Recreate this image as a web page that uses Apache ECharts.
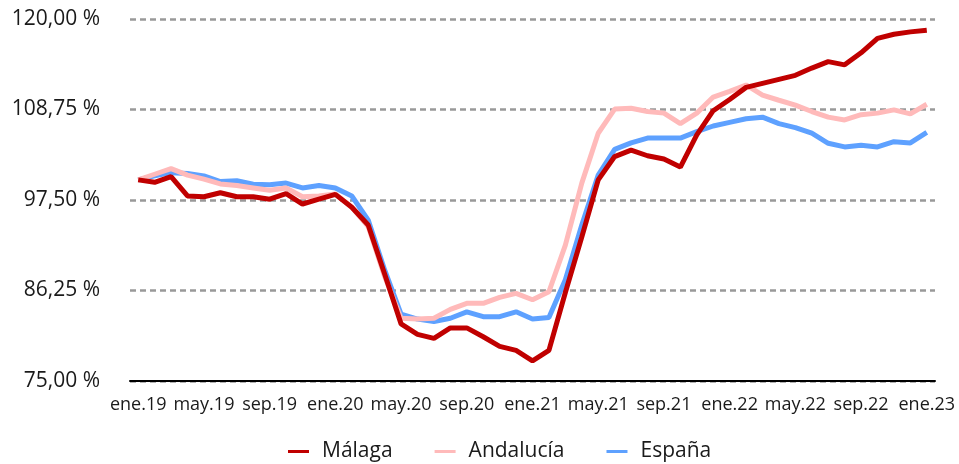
<!DOCTYPE html>
<html>
<head>
<meta charset="utf-8">
<script src="https://cdn.jsdelivr.net/npm/echarts@6/dist/echarts.min.js"></script>
<style>
html,body{margin:0;padding:0;background:#fff;}
#myChart{width:959px;height:464px;}
</style>
</head>
<body>
<div id="myChart"></div>
<script>
// meses
var meses = ['ene.19','feb.19','mar.19','abr.19','may.19','jun.19','jul.19','ago.19','sep.19','oct.19','nov.19','dic.19',
  'ene.20','feb.20','mar.20','abr.20','may.20','jun.20','jul.20','ago.20','sep.20','oct.20','nov.20','dic.20',
  'ene.21','feb.21','mar.21','abr.21','may.21','jun.21','jul.21','ago.21','sep.21','oct.21','nov.21','dic.21',
  'ene.22','feb.22','mar.22','abr.22','may.22','jun.22','jul.22','ago.22','sep.22','oct.22','nov.22','dic.22',
  'ene.23'];

var malaga = [100.0, 99.7, 100.4, 98.0, 97.9, 98.4, 97.9, 97.9, 97.6, 98.3, 97.0, 97.6,
  98.2, 96.6, 94.4, 88.3, 82.1, 80.8, 80.3, 81.6, 81.6, 80.5, 79.3, 78.8,
  77.5, 78.8, 86.0, 92.9, 100.0, 102.9, 103.7, 103.0, 102.6, 101.6, 105.6, 108.6,
  110.0, 111.5, 112.0, 112.5, 113.0, 113.9, 114.7, 114.3, 115.8, 117.6, 118.1, 118.4,
  118.6];

var andalucia = [100.0, 100.7, 101.4, 100.6, 100.1, 99.5, 99.3, 99.0, 98.7, 99.0, 97.9, 98.0,
  98.25, 96.6, 94.2, 88.0, 82.8, 82.7, 82.8, 83.9, 84.65, 84.65, 85.4, 85.9,
  85.1, 86.1, 91.9, 99.6, 105.8, 108.8, 108.9, 108.5, 108.3, 107.0, 108.3, 110.3,
  111.0, 111.8, 110.55, 109.9, 109.3, 108.5, 107.8, 107.45, 108.1, 108.3, 108.7, 108.2,
  109.4];

var espana = [100.0, 100.5, 100.9, 100.8, 100.5, 99.8, 99.9, 99.45, 99.4, 99.6, 99.0, 99.3,
  99.0, 98.0, 95.0, 88.8, 83.3, 82.7, 82.4, 82.8, 83.6, 83.0, 83.0, 83.6,
  82.7, 82.9, 87.6, 94.4, 100.6, 103.8, 104.6, 105.2, 105.2, 105.2, 106.0, 106.7,
  107.15, 107.6, 107.8, 107.0, 106.5, 105.8, 104.55, 104.1, 104.3, 104.1, 104.75, 104.6,
  105.9];

var fuente = 'Open Sans';

var option = {
  animation: false,
  textStyle: { fontFamily: fuente, color: '#1a1a1a' },
  grid: { left: 130, right: 24, top: 19, bottom: 83 },
  legend: {
    data: ['Málaga', 'Andalucía', 'España'],
    left: 283,
    top: 436,
    icon: 'rect',
    itemWidth: 21,
    itemHeight: 3,
    itemGap: 42,
    textStyle: { fontFamily: fuente, fontSize: 21, color: '#1a1a1a', padding: [0, 0, 0, 8] }
  },
  xAxis: {
    type: 'category',
    data: meses,
    boundaryGap: true,
    axisLine: { lineStyle: { color: '#000', width: 2 } },
    axisTick: { show: false },
    axisLabel: { interval: 3, margin: 15, fontSize: 18, color: '#1a1a1a', fontFamily: fuente }
  },
  yAxis: {
    type: 'value',
    min: 75,
    max: 120,
    interval: 11.25,
    axisLine: { show: false },
    axisTick: { show: false },
    axisLabel: {
      margin: 30,
      fontSize: 21,
      color: '#1a1a1a',
      fontFamily: fuente,
      formatter: function (v) { return v.toFixed(2).replace('.', ',') + ' %'; }
    },
    splitLine: { lineStyle: { color: '#999', width: 2.5, type: [6, 4] } }
  },
  series: [
    { name: 'Málaga', type: 'line', data: malaga, showSymbol: false, z: 4,
      lineStyle: { color: '#c00000', width: 5 }, itemStyle: { color: '#c00000' } },
    { name: 'Andalucía', type: 'line', data: andalucia, showSymbol: false, z: 3,
      lineStyle: { color: '#ffbaba', width: 5 }, itemStyle: { color: '#ffbaba' } },
    { name: 'España', type: 'line', data: espana, showSymbol: false, z: 2,
      lineStyle: { color: '#5ea1ff', width: 5 }, itemStyle: { color: '#5ea1ff' } }
  ]
};
echarts.init(document.getElementById('myChart')).setOption(option);
</script>
</body>
</html>
